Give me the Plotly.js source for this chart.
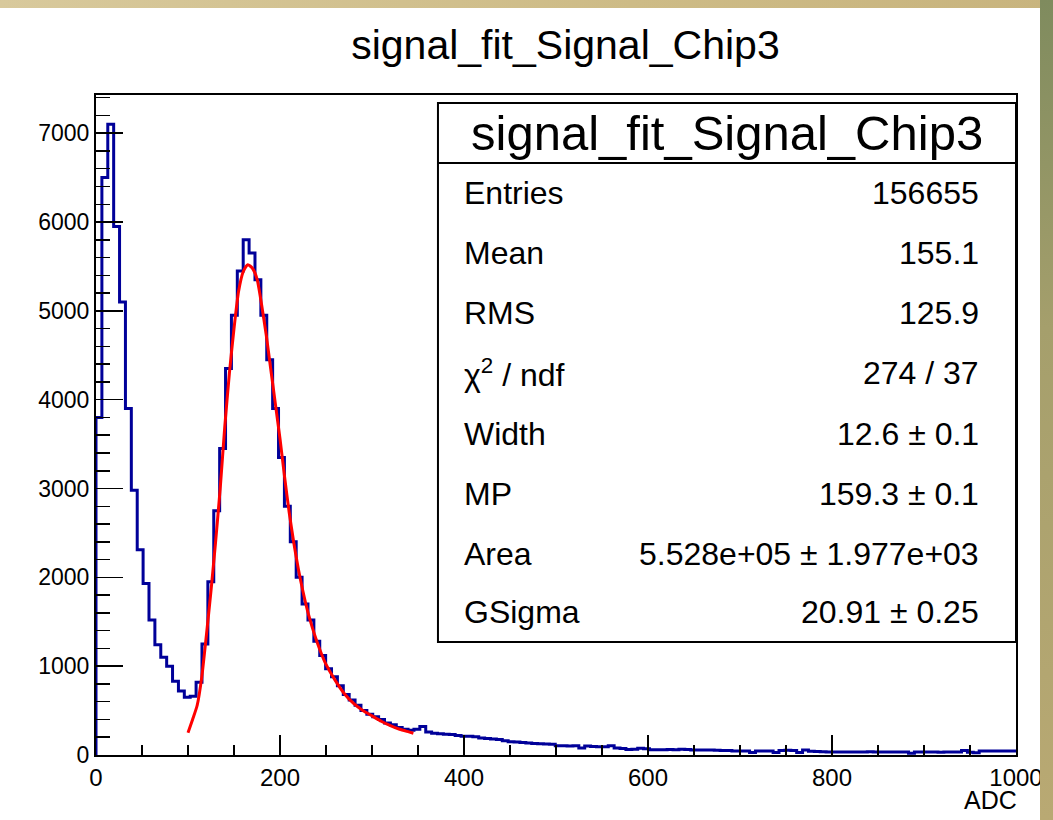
<!DOCTYPE html>
<html>
<head>
<meta charset="utf-8">
<script src="https://cdn.plot.ly/plotly-3.0.1.min.js"></script>
<style>
  html, body { margin:0; padding:0; background:#ffffff; }
  #wrap { position:relative; width:1053px; height:820px; overflow:hidden; background:#ffffff; }
  #chart { position:absolute; left:0; top:0; width:1053px; height:820px; }
  #topband { position:absolute; left:0; top:0; width:1053px; height:8px; background:linear-gradient(90deg,#d8c99c,#cdbb86 60%,#c8b47e); z-index:5; }
  #rightband { position:absolute; left:1040px; top:0; width:13px; height:820px; background:linear-gradient(180deg,#7f8b5e,#a59f6c 40%,#b9a973 100%); z-index:5; }
</style>
</head>
<body>
<div id="wrap">
  <div id="chart"></div>
  <div id="topband"></div>
  <div id="rightband"></div>
</div>
<script>
// ---- histogram data (bin width 6.4 ADC, starting at 0) ----
const binStart = 0;
const binWidth = 6.4;
const counts = [
  3800, 6500, 7100, 5950, 5100, 3900, 2980, 2310, 1930, 1520,
  1240, 1100, 1000, 830, 720, 650, 660, 820, 1250, 1950,
  2750, 3450, 4350, 4950, 5450, 5800, 5650, 5350, 4950, 4450,
  3900, 3350, 2800, 2400, 2000, 1700, 1520, 1280, 1120, 970,
  880, 780, 680, 620, 560, 500, 460, 430, 400, 360,
  340, 310, 290, 280, 290, 320, 260, 245, 240, 235,
  230, 220, 210, 210, 205, 190, 185, 180, 175, 160,
  150, 145, 140, 135, 130, 128, 124, 120, 105, 104,
  100, 105, 78, 102, 95, 92, 94, 103, 78, 72,
  62, 66, 75, 70, 58, 58, 60, 62, 60, 64,
  62, 56, 56, 55, 57, 54, 52, 50, 45, 45,
  44, 28, 45, 46, 44, 27, 52, 54, 50, 28,
  55, 42, 40, 36, 35, 34, 34, 35, 33, 34,
  33, 36, 34, 33, 35, 33, 34, 34, 20, 34,
  35, 33, 34, 32, 34, 33, 35, 52, 30, 26,
  45, 44, 46, 44, 45, 46, 45
];

// ---- fit curve (Landau x Gauss) ----
const fitX = [100,105,110,115,120,125,130,135,140,145,150,155,160,165,170,175,180,185,190,195,200,205,210,215,220,225,230,235,240,245,250,260,270,280,290,300,310,320,330,340,345];
const fitY = [250,400,560,880,1350,1850,2400,3000,3700,4300,4800,5220,5440,5520,5480,5360,5070,4730,4340,3950,3560,3130,2730,2390,2090,1840,1620,1440,1280,1140,1020,840,690,580,500,440,380,330,290,260,245];

// ---- stats box ----
const histTitle = 'signal_fit_Signal_Chip3';
const statLabels = ['Entries', 'Mean', 'RMS', 'χ<sup>2</sup> / ndf', 'Width', 'MP', 'Area', 'GSigma'];
const statValues = ['156655', '155.1', '125.9', '274 / 37', '12.6 ± 0.1', '159.3 ± 0.1', '5.528e+05 ± 1.977e+03', '20.91 ± 0.25'];

// build step outline
const hx = [binStart];
const hy = [0];
for (let i = 0; i < counts.length; i++) {
  hx.push(binStart + i * binWidth);
  hy.push(counts[i]);
}
hx.push(binStart + counts.length * binWidth);
hy.push(counts[counts.length - 1]);

const FONT = 'Liberation Sans, Arial, Helvetica, sans-serif';

const traces = [
  {
    x: hx, y: hy, type: 'scatter', mode: 'lines',
    line: { shape: 'hv', color: '#000099', width: 3 },
    hoverinfo: 'skip', showlegend: false
  },
  {
    x: fitX, y: fitY, type: 'scatter', mode: 'lines',
    line: { shape: 'spline', smoothing: 0.6, color: '#ff0000', width: 3 },
    hoverinfo: 'skip', showlegend: false
  }
];

// stats box geometry (paper coords)
const bx0 = 0.3717, bx1 = 1.0, by0 = 0.1712, by1 = 0.9879, bsep = 0.897;
const rowY = [0.8515, 0.7606, 0.6697, 0.5788, 0.4864, 0.3955, 0.3045, 0.2167];

const annotations = [
  { text: histTitle, xref: 'paper', yref: 'paper', x: (bx0 + bx1) / 2, y: 0.9424,
    xanchor: 'center', yanchor: 'middle', showarrow: false,
    font: { family: FONT, size: 49, color: '#000' } },
  { text: 'ADC', xref: 'paper', yref: 'paper', x: 1.0, y: -0.068, xshift: 3,
    xanchor: 'right', yanchor: 'middle', showarrow: false,
    font: { family: FONT, size: 25, color: '#000' } }
];
statLabels.forEach((lab, k) => {
  annotations.push({ text: lab, xref: 'paper', yref: 'paper', x: 0.398, y: rowY[k],
    xanchor: 'left', yanchor: 'middle', showarrow: false,
    font: { family: FONT, size: 32, color: '#000' } });
  annotations.push({ text: statValues[k], xref: 'paper', yref: 'paper', x: 0.962, y: rowY[k],
    xanchor: 'right', yanchor: 'middle', showarrow: false,
    font: { family: FONT, size: 32, color: '#000' } });
});

const layout = {
  width: 1053, height: 820,
  margin: { l: 96, r: 37, t: 95, b: 65, pad: 0 },
  paper_bgcolor: '#ffffff', plot_bgcolor: '#ffffff',
  font: { family: FONT, color: '#000' },
  title: { text: 'signal_fit_Signal_Chip3', font: { family: FONT, size: 41, color: '#000' },
    xref: 'container', yref: 'container', x: 0.537, y: 0.945, xanchor: 'center', yanchor: 'middle' },
  xaxis: {
    range: [0, 1000], tick0: 0, dtick: 200, ticks: 'inside', ticklen: 20, tickwidth: 1.5, tickcolor: '#000',
    showline: true, linecolor: '#000', linewidth: 2, mirror: true, showgrid: false, zeroline: false,
    tickfont: { family: FONT, size: 24, color: '#000' },
    minor: { dtick: 50, ticks: 'inside', ticklen: 10, tickwidth: 1.5, tickcolor: '#000', showgrid: false }
  },
  yaxis: {
    range: [0, 7430], tick0: 0, dtick: 1000, ticks: 'inside', ticklen: 27, tickwidth: 1.5, tickcolor: '#000',
    showline: true, linecolor: '#000', linewidth: 2, mirror: true, showgrid: false, zeroline: false,
    tickfont: { family: FONT, size: 23, color: '#000' },
    minor: { dtick: 200, ticks: 'inside', ticklen: 14, tickwidth: 1.5, tickcolor: '#000', showgrid: false }
  },
  shapes: [
    { type: 'rect', xref: 'paper', yref: 'paper', x0: bx0, x1: bx1, y0: by0, y1: by1,
      line: { color: '#000', width: 2 }, fillcolor: '#ffffff', layer: 'above' },
    { type: 'line', xref: 'paper', yref: 'paper', x0: bx0, x1: bx1, y0: bsep, y1: bsep,
      line: { color: '#000', width: 2 }, layer: 'above' }
  ],
  annotations: annotations,
  showlegend: false
};

Plotly.newPlot('chart', traces, layout, { staticPlot: true, displayModeBar: false });
</script>
</body>
</html>
